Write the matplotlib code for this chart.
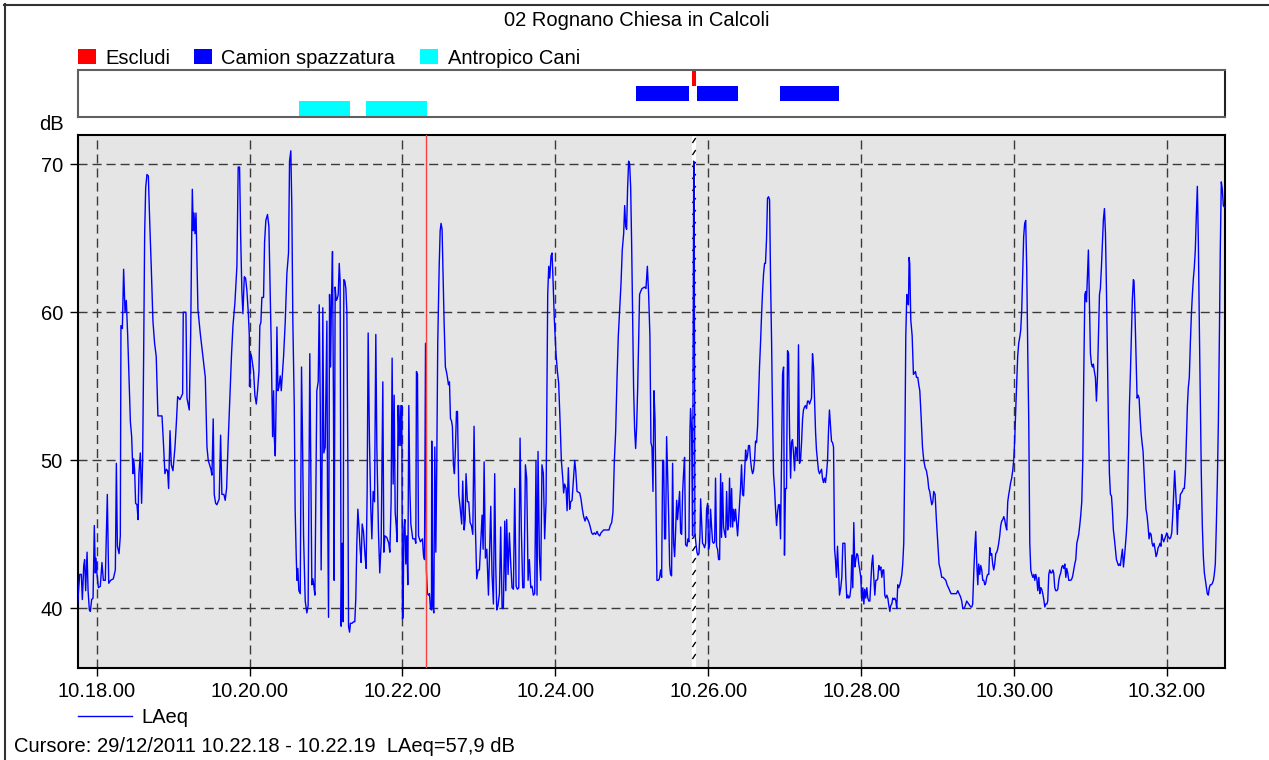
import matplotlib
matplotlib.use("Agg")
import matplotlib.pyplot as plt
from matplotlib.patches import Rectangle
from matplotlib.lines import Line2D
import matplotlib.transforms as mtransforms

plt.rcParams['font.family'] = ['Liberation Sans', 'DejaVu Sans']

# ---------------- text ----------------
title = "02 Rognano Chiesa in Calcoli"
y_label = "dB"
series_name = "LAeq"
cursor_text = "Cursore: 29/12/2011 10.22.18 - 10.22.19  LAeq=57,9 dB"
time_ticks = ["10.18.00", "10.20.00", "10.22.00", "10.24.00",
              "10.26.00", "10.28.00", "10.30.00", "10.32.00"]
time_origin = "10.18.00"
y_ticks = [40, 50, 60, 70]
x_range_s = (-15, 885.5)     # seconds after 10.18.00
y_range = (36, 72)
cursor_s = 258.5              # 10.22.18 - 10.22.19

# ---------------- events ----------------
event_names = ["Escludi", "Camion spazzatura", "Antropico Cani"]
event_colors = ["#ff0000", "#0000ff", "#00ffff"]
escludi_start = [467.0]
escludi_end = [470.7]
camion_start = [423.0, 471.0, 536.5]
camion_end = [465.0, 503.5, 582.5]
cani_start = [159.0, 211.5]
cani_end = [199.0, 259.5]

# ---------------- LAeq samples (seconds after 10.18.00, dB) ----------------
t_a = [-14.9,-13.3,-12.0,-11.2,-10.1,-9.4,-8.6,-7.5,-6.7,-5.7,-4.9,-3.9,-2.8,-1.8,-1.0,-0.5,0.3,1.4,2.9,4.2,5.3,6.8,8.4,9.5,11.0,13.1,14.7,15.5,16.3,17.6,18.6,19.1,20.2,21.2,22.3,23.3,24.4,25.4,26.5,27.5,28.5,29.1,29.8,30.6,31.7,32.5,33.2,34.3,35.3,36.1,36.9,37.7,38.5,39.5,40.6,41.6,42.9,44.2,45.5,46.8,48.1,50.0,51.3,52.3,53.6,54.7,55.7,56.5,57.6,58.6,59.9,61.5,62.5,63.6,65.4,67.5,68.0,70.1,70.9,72.7,73.8,74.5,75.1,75.9,76.4,77.2,78.0,78.7,79.5,81.3,83.2,85.3,85.8,86.6,87.6,89.7,90.5,91.5,92.3,93.4,94.4,96.2,97.3,98.3,99.9,100.9,102.0,103.3,104.6,105.9,107.0,108.5,110.1,111.1,112.2,113.0,114.0,114.8,115.9,116.9,117.9,119.0,119.8,120.0,120.8,121.6,123.2,124.2,125.3,126.3,127.4,128.1,128.9,129.7,131.0,131.8,132.8,134.1,135.2,136.2]
v_a = [40.3,42.3,42.3,40.6,42.9,43.3,41.2,43.8,41.2,39.9,39.8,40.6,40.7,45.6,42.4,43.4,42.3,41.4,41.5,43.1,41.9,41.9,47.7,41.7,41.9,42.0,42.6,49.8,44.2,43.7,44.9,59.1,58.9,62.9,60.0,60.8,58.4,55.6,52.6,51.6,49.1,50.1,49.4,47.1,47.0,46.0,49.1,50.5,47.1,50.0,57.0,65.3,68.4,69.3,69.2,66.3,63.0,59.4,57.9,57.0,53.0,53.0,53.0,51.4,49.1,49.4,49.3,48.1,52.0,49.7,49.3,50.9,52.4,54.3,54.1,54.5,60.0,60.0,54.2,53.4,58.4,64.2,68.3,65.5,66.7,65.3,66.7,63.7,60.2,58.6,57.2,55.6,53.7,50.9,50.0,49.4,49.0,52.8,47.7,47.1,47.0,47.4,51.7,47.7,47.7,47.3,48.1,51.4,54.4,57.2,59.1,60.6,63.1,69.8,69.8,65.3,61.4,59.9,62.4,62.3,61.5,60.0,58.5,55.0,57.2,57.0,56.0,54.4,53.8,54.7,56.0,59.1,59.3,61.0,61.0,64.7,66.2,66.6,65.8,61.6]

t_b = [137.0,138.1,138.9,139.4,140.2,141.0,141.5,142.3,143.0,144.1,144.9,145.7,146.7,148.0,149.3,150.6,151.4,152.4,153.2,154.0,155.1,155.8,156.6,157.2,157.9,158.7,159.8,160.8,161.6,162.4,163.7,165.0,166.0,166.6,167.3,168.1,168.9,169.7,170.5,171.3,172.1,172.8,173.9,174.7,175.5,176.2,177.0,177.5,178.3,179.4,180.2,180.7,181.2,182.0,182.8,183.6,184.3,185.1,185.9,186.4,187.2,188.0,188.8,189.6,190.4,191.1,191.9,192.7,193.5,194.0,194.8,195.6,196.4,197.2,197.7,198.5,199.2,200.5,201.6,202.6,203.4,204.2,205.0,205.8,206.8,207.6,208.4,209.4,210.7,211.5,212.3,213.1,214.1,215.2,216.0,217.0,218.1,219.1,219.9,221.2,222.2,223.3,224.6,225.4,226.2,227.7,229.3,230.1,231.1,231.9,232.7,233.5,234.3,235.1,235.8,236.6,237.4,238.2,238.7,239.5,240.0,240.5,241.1,241.9,242.6,243.4,244.2,245.0,245.8,246.6,248.1,249.7,250.5,251.0,251.8,252.6,254.1,255.7,256.5,257.3,258.1,258.8,259.6,260.4,261.2,262.0,262.8,263.0,263.8,264.6,265.4,266.2,266.9,267.7,268.8,269.6,270.3,271.1,271.9,272.7,273.7,274.5,275.3,276.1,276.9,277.7,278.4,279.2,280.0,280.8,281.6,282.4,283.2,284.2,285.2]
v_b = [57.9,51.6,54.7,51.6,50.3,54.7,59.0,54.7,54.9,55.7,54.7,55.7,57.0,59.3,62.6,64.0,70.2,70.9,67.0,59.3,53.7,46.7,43.7,41.9,42.7,41.2,41.0,56.3,51.4,44.9,40.5,39.7,40.2,47.9,57.2,49.1,41.6,42.0,41.5,40.9,47.9,54.7,55.3,60.5,53.7,42.6,50.5,60.3,50.5,50.9,56.0,59.4,47.9,39.4,61.2,56.3,60.8,64.1,53.5,41.9,61.7,60.8,60.9,61.2,63.3,62.1,38.8,44.4,39.1,62.2,62.1,61.6,60.0,49.1,38.8,38.4,39.0,39.0,39.1,39.1,40.7,44.4,46.7,45.6,44.0,43.1,45.7,45.2,43.5,42.7,47.9,58.6,51.4,46.7,44.7,47.9,47.2,58.5,50.9,45.1,42.4,44.4,55.3,43.8,44.9,44.8,44.4,43.8,47.2,56.9,48.4,54.4,46.5,45.6,44.5,53.7,51.0,53.7,51.0,53.7,39.3,39.4,45.3,46.0,43.0,44.9,41.6,53.7,48.1,45.7,44.7,44.7,44.4,56.0,55.8,44.9,44.5,44.7,43.6,43.3,57.9,42.6,41.0,40.9,41.0,40.0,39.9,51.3,40.2,39.7,50.9,43.8,49.5,57.9,63.0,65.5,66.0,65.6,62.3,59.3,56.3,56.0,55.6,55.1,55.3,52.8,52.7,52.3,49.7,49.1,50.9,53.3,53.3,47.7,46.9]

t_c = [286.5,287.3,288.4,289.2,289.9,291.0,292.0,293.1,294.1,295.2,296.2,297.3,298.3,299.4,300.4,301.4,302.5,303.3,304.1,305.1,306.2,307.5,308.5,309.3,310.3,311.4,312.4,313.2,314.0,315.0,316.1,317.1,318.2,319.2,320.3,321.1,321.8,322.9,323.9,325.0,326.0,327.1,328.1,329.2,330.2,331.3,332.3,333.3,334.4,335.4,336.5,337.5,338.6,339.6,340.7,341.7,342.7,343.8,344.8,345.6,346.4,347.5,348.5,349.5,350.6,351.6,352.7,353.2,354.0,354.8,355.6,356.6,357.4,358.2,359.2,360.5,361.6,362.6,363.7,364.7,365.8,366.5,367.3,368.4,369.2,370.2,371.2,372.0,373.1,374.1,375.2,376.0,377.0,379.1,380.1,381.2,382.2,383.3,384.3,385.4,386.4,387.4,388.5,389.5,390.6,391.6,392.7,393.7,394.8,395.8,396.9,397.9,400.0,402.1,403.1,404.2,405.2,406.3,407.3,408.4,409.4,410.5,411.5,412.5,413.6,414.4,415.2,415.9,416.7,417.5,418.3,419.1,419.9,420.6,421.4,422.2,423.0,423.8,424.6,425.4,426.1,426.9,428.0,430.1,431.1,432.2,433.2,434.2]
v_c = [45.7,48.6,45.3,46.0,49.1,47.2,47.2,45.8,45.6,45.0,52.3,45.3,42.0,42.6,42.6,44.4,46.3,44.0,49.9,43.4,44.0,40.9,44.4,46.9,42.3,40.3,49.1,43.0,39.9,40.2,41.0,45.5,40.0,40.0,45.9,41.2,46.0,42.3,45.1,43.0,41.4,41.3,48.1,41.5,41.3,41.4,51.5,45.3,41.4,41.4,49.7,48.8,41.9,43.3,41.4,41.5,40.9,41.0,50.0,40.9,50.6,43.5,41.9,49.7,49.1,44.7,47.2,52.6,61.2,63.1,62.3,63.8,64.0,62.1,59.5,57.2,56.0,55.2,52.6,50.0,48.8,47.8,48.4,48.1,46.6,49.5,46.7,47.2,47.3,48.6,50.0,49.3,47.9,47.8,47.4,46.7,46.2,45.9,46.2,46.0,45.8,45.5,45.1,45.0,45.1,45.0,45.2,45.0,44.9,45.1,45.2,45.3,45.3,45.3,45.6,45.8,46.5,50.0,51.9,55.6,58.4,60.2,61.9,64.2,65.3,67.2,65.8,65.6,68.4,70.2,70.0,68.4,64.4,60.0,54.9,52.1,50.8,52.3,54.9,58.4,61.2,61.4,61.6,61.7,61.6,63.1,61.2,58.4]

t_d = [435.0,435.8,436.6,437.4,438.2,438.9,439.7,440.8,441.6,442.6,443.4,444.2,445.0,445.7,446.5,447.3,448.1,448.9,449.7,450.4,451.2,452.0,452.8,453.6,454.4,455.2,455.9,456.7,457.5,458.3,459.1,459.9,460.6,461.4,462.2,463.3,464.0,464.8,465.6,466.1,466.9,467.7,468.5,469.0,469.5,470.3,471.1,471.9,472.7,473.5,474.0,474.8,475.5,476.3,477.1,477.9,478.7,479.5,480.2,481.0,481.8,482.6,483.4,484.2,485.0,485.7,486.5,487.3,488.1,488.9,489.7,490.4,491.2,492.0,492.8,493.6,494.4,495.2,495.9,496.7,497.5,498.3,499.1,499.9,500.6,501.4,502.2,503.0,503.8,504.6,505.3,506.1,506.9,507.7,508.5,509.3,510.0,510.8,511.6,512.4,513.2,514.0,514.8,515.5,516.3,517.1,517.9,518.7,519.5,520.2,521.0,521.8,522.6,523.4,524.2,524.9,525.7,526.5,527.3,528.1,528.9,529.7,530.4,531.2,532.0,532.8,533.6,534.4,535.1,535.9,536.7,537.5,538.3,539.1,539.8,540.6,541.4,542.2,543.0,543.8,544.6,545.3,546.1,546.9,547.7,548.5,549.3,550.0,550.8,551.6,552.4,553.2,554.0,554.7,555.5,556.3,557.1,557.9,558.7,559.5,560.2,561.0,561.8,562.6,563.4,564.2,564.9,565.7,566.5,567.3,568.9,569.6,570.4,571.2,572.0,572.8,573.6,574.4,575.1,575.9,576.7,577.5,578.3,579.1,579.8,580.6,581.4,582.2,583.0]
v_d = [51.2,50.9,47.9,54.7,52.8,47.9,41.9,41.9,42.0,42.6,42.1,50.0,50.0,44.7,44.7,51.6,49.1,46.3,42.9,42.3,42.2,49.8,44.4,43.5,45.3,47.3,46.0,47.0,47.9,45.1,45.0,47.9,49.1,50.2,44.3,44.2,44.7,44.5,51.9,53.5,52.1,44.9,70.2,70.1,45.1,44.4,43.8,43.6,43.7,45.0,47.4,45.8,44.4,44.3,44.1,44.4,46.7,47.1,44.0,44.3,46.7,45.5,44.5,44.4,44.5,48.8,44.2,44.0,43.3,43.3,49.1,44.8,48.5,45.5,45.1,44.8,47.9,45.3,45.6,48.8,45.5,48.1,45.5,46.7,45.9,46.7,45.8,44.9,46.0,47.2,48.1,49.7,47.7,47.6,49.1,50.7,50.0,50.3,51.0,51.0,50.0,49.4,49.1,49.3,50.0,51.3,51.2,52.3,54.4,56.3,57.9,59.8,61.4,62.6,63.3,63.3,64.9,67.7,67.8,67.6,62.1,57.9,53.3,49.1,48.1,46.7,45.6,46.5,47.0,47.0,44.7,50.0,55.8,56.3,43.6,48.1,48.1,57.4,57.2,51.9,48.8,51.2,51.4,50.5,49.3,50.9,50.7,50.0,57.8,49.8,50.0,51.2,52.8,53.4,53.6,53.7,53.5,54.0,54.0,53.8,54.0,54.2,57.2,56.3,54.2,51.9,50.7,50.0,49.3,49.1,49.4,48.8,48.5,48.8,48.5,49.1,50.0,52.1,53.4,52.3,51.3,51.2,50.9,44.0,43.3,42.1,44.2,42.6,40.9]

t_e = [584.0,584.8,585.6,587.2,587.9,588.7,589.5,590.3,591.1,591.9,592.7,593.4,594.2,595.0,595.8,596.6,597.4,598.1,598.9,599.7,600.5,601.3,602.1,602.8,603.6,604.4,605.2,606.0,606.8,607.6,608.3,609.1,609.9,610.7,611.5,612.3,613.0,613.8,614.6,615.4,616.2,617.0,617.7,618.5,619.3,620.1,620.9,621.7,622.5,623.2,624.0,624.8,625.6,626.4,627.2,627.9,628.7,629.5,630.3,631.1,631.9,632.6,633.4,634.2,635.0,635.8,636.3,637.1,637.6,638.1,638.9,640.0,641.0,641.8,642.6,643.4,644.4,645.2,646.0,647.0,648.1,649.1,650.2,651.2,652.2,653.0,653.8,654.6,655.4,656.2,656.9,658.0,659.0,660.1,661.1,662.2,663.2,664.3,665.3,666.4,667.4,668.5,669.5,670.5,672.6,674.7,675.8,676.8,677.9,678.9,679.7,680.5,681.3,682.1,682.8,683.6,684.4,685.2,686.0,686.8,687.5,688.3,689.1,689.9,690.7,691.5,692.2,693.0,693.8,694.6,695.4,696.2,697.0,697.7,698.5,699.3,700.1,700.9,701.7,702.4,703.2,704.0,704.8,705.6,706.4,707.1,707.9,708.7,709.5,710.3,711.1,711.9,712.6,713.4,714.2,715.0,715.8,716.6,717.3,718.1,718.9,719.7,720.5,721.3,722.0,722.8,723.6,724.4,725.2,726.0,726.7,727.5,728.3,729.1,729.9,730.7,731.5]
v_e = [41.4,42.1,44.4,44.4,42.1,40.7,40.9,40.7,40.8,41.4,43.6,41.4,45.8,42.8,43.3,43.7,43.6,43.0,42.6,42.1,40.5,41.4,40.3,41.3,40.7,41.4,40.7,40.5,40.5,41.9,43.0,43.6,42.1,40.9,41.9,41.9,42.0,42.9,42.6,42.8,42.1,42.6,42.6,40.9,40.7,40.9,40.7,40.2,39.8,40.2,40.3,40.7,40.6,40.7,40.5,40.0,41.6,41.4,41.6,41.9,42.3,43.0,44.4,50.0,58.4,61.2,60.7,60.5,63.7,63.3,59.5,58.4,55.8,55.9,56.0,55.6,55.6,55.1,54.7,53.0,50.9,50.0,49.5,49.3,48.8,48.1,47.9,47.4,47.0,47.2,47.9,47.7,46.0,44.4,43.0,42.6,42.1,42.1,42.0,41.9,41.6,41.4,41.2,41.0,41.0,41.0,41.2,41.0,40.8,40.5,40.0,40.0,40.1,40.3,40.5,40.4,40.3,40.2,40.1,40.1,40.3,42.3,44.0,45.2,43.0,41.6,43.0,42.3,42.9,42.6,41.9,41.9,41.6,41.7,42.1,42.3,42.3,44.1,43.6,43.7,43.0,42.6,43.0,43.7,43.8,44.0,44.4,44.9,45.6,45.9,46.0,46.2,46.0,45.6,45.3,47.2,47.7,48.1,48.5,48.8,49.3,50.0,51.4,53.5,55.1,57.0,57.9,58.3,58.8,60.2,62.6,65.1,66.0,66.2,63.0,57.4,52.6]

t_f = [732.3,733.1,733.9,734.7,735.5,736.2,737.0,737.8,738.6,739.4,740.2,740.9,741.7,742.5,743.3,744.1,744.9,745.7,746.4,747.2,748.0,748.8,749.6,750.4,751.1,751.9,752.7,753.5,754.3,755.1,755.8,756.6,757.4,758.2,759.0,759.8,760.6,761.3,762.1,762.9,763.7,764.5,765.3,766.0,766.8,767.6,768.4,769.2,770.0,770.7,771.5,772.3,773.1,773.9,774.7,775.5,776.2,776.8,777.5,778.3,779.1,779.9,780.7,781.5,782.2,783.0,783.8,784.6,785.4,786.2,787.0,787.7,788.5,789.3,790.1,790.9,791.7,792.4,793.2,794.0,794.8,795.6,796.4,797.1,797.9,798.7,799.5,800.3,801.1,801.9,802.6,803.4,804.2,805.0,805.8,806.6,807.3,808.1,808.9,809.7,810.5,811.3,812.0,812.8,813.6,814.1,814.9,815.7,816.5,817.3,818.1,818.8,819.6,820.4,821.2,822.0,822.8,823.5,824.3,825.1,825.9,826.7,827.5,828.3,829.0,829.8,830.6,831.4,832.2,833.0,833.7,834.5,835.3,835.8,836.6,837.4,838.2,839.0,839.8,840.5,841.3,842.1,842.9,843.7,844.5,845.2,846.0,846.8,847.6,848.1,848.9,849.7,850.5,851.3,852.0,852.8,853.6,854.4,855.2,856.0,856.7,857.5,858.3,859.1,859.9,860.7,861.4,862.2,863.0,863.8,864.6,865.4,866.2,866.9,867.7,868.5,869.3,870.1,870.9,871.6,872.4,873.2,874.0,874.8,875.6,876.4,877.1,877.9,878.7,879.5,880.3,881.1,881.8,882.6,883.4,884.2,885.0]
v_f = [44.4,42.6,42.3,42.1,42.3,41.9,42.3,42.0,41.2,42.1,41.0,41.4,41.3,41.0,40.6,40.1,40.3,40.3,40.5,42.3,42.6,42.4,42.4,42.6,42.4,41.4,41.2,41.2,41.3,41.9,42.2,42.4,42.8,42.9,42.7,43.0,42.1,42.7,42.4,41.9,41.9,41.9,42.0,42.2,42.6,43.0,43.3,44.4,44.7,45.0,45.6,46.3,47.2,50.0,56.0,61.2,61.4,60.7,62.3,64.2,60.7,57.2,56.5,56.3,56.5,56.0,55.6,54.0,55.6,58.4,61.2,61.6,63.0,64.7,66.3,67.0,65.3,61.9,57.2,52.6,49.1,47.7,47.6,46.7,45.3,44.7,44.0,43.3,43.1,42.9,43.0,42.9,43.5,44.0,42.8,43.5,44.2,45.1,46.3,50.2,53.7,56.0,58.4,60.9,62.2,62.1,59.8,57.0,54.2,54.4,54.2,53.0,51.9,51.2,50.6,49.1,47.7,46.7,46.3,45.6,44.7,45.1,45.0,44.4,44.2,44.4,44.0,43.5,43.7,44.1,44.2,44.4,44.2,45.0,44.7,44.5,44.7,44.9,45.1,44.9,44.8,44.7,44.8,45.1,46.3,47.7,49.3,47.9,46.5,45.0,47.0,46.7,47.7,47.8,47.9,48.1,48.1,49.1,51.4,53.7,54.9,55.6,57.9,59.8,61.2,62.3,63.0,64.2,66.5,68.5,64.7,58.8,53.7,49.1,45.6,43.5,42.4,41.9,41.4,41.0,40.9,41.4,41.6,41.6,41.7,41.9,42.3,43.0,45.6,48.6,52.6,58.4,64.2,68.8,68.3,67.2,67.1]

t_parts = [t_a, t_b, t_c, t_d, t_e, t_f]
v_parts = [v_a, v_b, v_c, v_d, v_e, v_f]
for i, (tp, vp) in enumerate(zip(t_parts, v_parts)):
    assert len(tp) == len(vp), (i, len(tp), len(vp))
times = [x for p in t_parts for x in p]
laeq = [x for p in v_parts for x in p]


def hms_to_s(label):
    h, m, s = (int(p) for p in label.split('.'))
    return h * 3600 + m * 60 + s


origin = hms_to_s(time_origin)
tick_pos = [hms_to_s(lbl) - origin for lbl in time_ticks]

# ---------------- figure ----------------
W, H = 1269, 760
fig = plt.figure(figsize=(W / 100, H / 100), dpi=100)
fig.patch.set_facecolor('white')


def fx(px):
    return px / W


def fy(py):
    return 1 - py / H


FS = 14.5
# frame lines of the window
fig.add_artist(Line2D([fx(4), 1], [fy(4.5), fy(4.5)], color='#333333', lw=1.5, transform=fig.transFigure))
fig.add_artist(Line2D([fx(4.5), fx(4.5)], [fy(4), 0], color='#333333', lw=1.5, transform=fig.transFigure))

# main axes
L, R, T, B = 77.5, 1225, 134.5, 667.7
ax = fig.add_axes([fx(L), fy(B), fx(R) - fx(L), fy(T) - fy(B)])
ax.set_facecolor('#e5e5e5')
ax.set_xlim(*x_range_s)
ax.set_ylim(*y_range)
ax.set_xticks(tick_pos)
ax.set_xticklabels(time_ticks)
ax.set_yticks(y_ticks)
ax.tick_params(axis='both', direction='out', length=6, width=1, labelsize=FS, pad=4.5, color='black')
ax.grid(True, color='#3a3a3a', linestyle=(0, (6.5, 3.6)), lw=1.0)
ax.set_axisbelow(True)
for s in ax.spines.values():
    s.set_linewidth(1.5)
    s.set_color('black')

# excluded interval: white band with short diagonal strokes
blend = mtransforms.blended_transform_factory(ax.transData, ax.transAxes)
plot_h_px = B - T
stroke_step = 12.0 / plot_h_px
stroke_h = 5.0 / plot_h_px
for a, b in zip(escludi_start, escludi_end):
    ax.axvspan(a, b, facecolor='white', edgecolor='none', lw=0, zorder=1.5)
    k = 0
    while True:
        yc = 1 - (6 + 12.0 * k) / plot_h_px
        if yc < 0:
            break
        ax.plot([a + 0.15 * (b - a), b - 0.15 * (b - a)], [yc - stroke_h / 2, yc + stroke_h / 2],
                color='black', lw=1.0, transform=blend, zorder=1.6, solid_capstyle='butt')
        k += 1

ax.plot(times, laeq, color='#0000ff', lw=1.0, zorder=3)
ax.axvline(cursor_s, color='#ff4040', lw=1.0, zorder=4)

# event axes
ET, EB = 70, 116.7
axe = fig.add_axes([fx(L), fy(EB), fx(R) - fx(L), fy(ET) - fy(EB)])
axe.set_xlim(*x_range_s)
axe.set_ylim(0, 3)
axe.set_xticks([])
axe.set_yticks([])
for s in axe.spines.values():
    s.set_linewidth(1.5)
    s.set_color('#606060')
axe.spines['right'].set_color('#222222')
rows = {0: 2, 1: 1, 2: 0}
ev_starts = [escludi_start, camion_start, cani_start]
ev_ends = [escludi_end, camion_end, cani_end]
for i, (st, en) in enumerate(zip(ev_starts, ev_ends)):
    axe.broken_barh([(a, b - a) for a, b in zip(st, en)], (rows[i], 1),
                    facecolors=event_colors[i], edgecolor='none')

# title
fig.text(fx(637), fy(26.5), title, ha='center', va='baseline', fontsize=FS)

# event legend
leg_sq_x = [78, 194, 420]
leg_tx_x = [105, 221, 448]
for i, name in enumerate(event_names):
    fig.add_artist(Rectangle((fx(leg_sq_x[i]), fy(64)), 18 / W, 15 / H,
                             transform=fig.transFigure, facecolor=event_colors[i], edgecolor='none'))
    fig.text(fx(leg_tx_x[i]), fy(64), name, ha='left', va='baseline', fontsize=FS)

# dB label
fig.text(fx(39), fy(130), y_label, ha='left', va='baseline', fontsize=FS)

# series legend
fig.add_artist(Line2D([fx(77.5), fx(131.5)], [fy(716), fy(716)], color='#0000ff', lw=1.0,
                      transform=fig.transFigure))
fig.text(fx(141), fy(723), series_name, ha='left', va='baseline', fontsize=FS)

# cursor readout
fig.text(fx(14), fy(751.7), cursor_text, ha='left', va='baseline', fontsize=FS)

fig.savefig('out.png', dpi=100)
